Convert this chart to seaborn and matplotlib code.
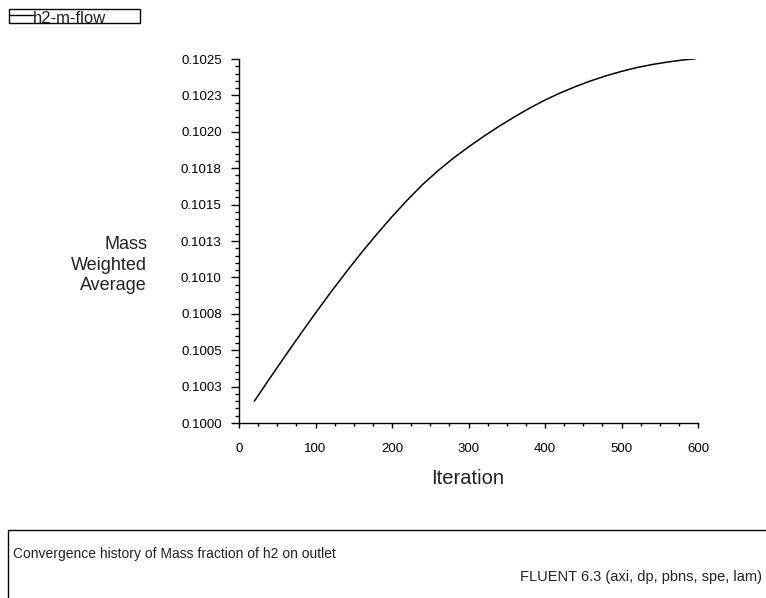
import matplotlib
matplotlib.use("Agg")
import matplotlib.pyplot as plt
from matplotlib.ticker import MultipleLocator, FixedLocator, FixedFormatter
from matplotlib.patches import Rectangle
import seaborn as sns
import pandas as pd

sns.set_style("ticks")
plt.rcParams['font.family'] = ['Liberation Sans', 'DejaVu Sans']

iterations = [20, 40, 60, 80, 100, 120, 140, 160, 180, 200, 220, 240, 260, 280, 300,
              320, 340, 360, 380, 400, 420, 440, 460, 480, 500, 520, 540, 560, 580, 597]
mass_weighted_avg = [0.100150, 0.100305, 0.100458, 0.100608, 0.100755, 0.100898, 0.101036,
                     0.101169, 0.101296, 0.101417, 0.101531, 0.101638, 0.101732, 0.101818,
                     0.101896, 0.101969, 0.102038, 0.102102, 0.102163, 0.102218, 0.102267,
                     0.102311, 0.102350, 0.102385, 0.102415, 0.102441, 0.102462, 0.102479,
                     0.102493, 0.102502]
y_ticks = [0.1000, 0.10025, 0.1005, 0.10075, 0.1010, 0.10125, 0.1015, 0.10175, 0.1020, 0.10225, 0.1025]
y_tick_labels = ["0.1000", "0.1003", "0.1005", "0.1008", "0.1010", "0.1013", "0.1015", "0.1018",
                 "0.1020", "0.1023", "0.1025"]
x_ticks = [0, 100, 200, 300, 400, 500, 600]
legend_label = "h2-m-flow"
title_text = "Convergence history of Mass fraction of h2 on outlet"
footer_text = "FLUENT 6.3 (axi, dp, pbns, spe, lam)"

df = pd.DataFrame({"Iteration": iterations, "Value": mass_weighted_avg})

W, H = 766, 598
fig = plt.figure(figsize=(W / 100, H / 100), dpi=100)
ax = fig.add_axes([239 / W, 1 - 423 / H, (698 - 239) / W, (423 - 59) / H])
sns.lineplot(data=df, x="Iteration", y="Value", ax=ax, color="black", linewidth=1.1)

ax.set_xlim(0, 600)
ax.set_ylim(0.1000, 0.1025)
ax.yaxis.set_major_locator(FixedLocator(y_ticks))
ax.yaxis.set_major_formatter(FixedFormatter(y_tick_labels))
ax.yaxis.set_minor_locator(MultipleLocator(0.00005))
ax.xaxis.set_major_locator(FixedLocator(x_ticks))
ax.xaxis.set_minor_locator(MultipleLocator(25))

for s in ["top", "right"]:
    ax.spines[s].set_visible(False)
for s in ["left", "bottom"]:
    ax.spines[s].set_linewidth(1.0)
    ax.spines[s].set_color("black")

ax.tick_params(axis="both", which="both", direction="out", width=1, colors="black", labelsize=9.5)
ax.tick_params(axis="y", which="major", length=5.5, pad=7)
ax.tick_params(axis="y", which="minor", length=3.1)
ax.tick_params(axis="x", which="major", length=3.6, pad=10.5)
ax.tick_params(axis="x", which="minor", length=2.2)

ax.set_xlabel("Iteration", fontsize=14.5, color="#222222", va="baseline")
ax.xaxis.set_label_coords(0.499, -61 / 364)
ax.set_ylabel("Mass\nWeighted\nAverage", fontsize=13, rotation=0, ha="right", va="center",
              color="#222222", linespacing=1.3, multialignment="right")
ax.yaxis.set_label_coords(-92 / 459, (423 - 265) / 364)

# legend box at top-left
fig.patches.append(Rectangle((9 / W, 1 - 23 / H), (140 - 9) / W, 14 / H, transform=fig.transFigure,
                             fill=False, edgecolor="black", linewidth=1.0))
fig.lines.append(plt.Line2D([10 / W, 33 / W], [1 - 15 / H, 1 - 15 / H], transform=fig.transFigure,
                            color="black", linewidth=1.0))
fig.text(33 / W, 1 - 23 / H, legend_label, fontsize=12, ha="left", va="baseline", color="#222222")

# bottom info box
fig.patches.append(Rectangle((8 / W, -0.05), 1.0, 1 - 530 / H + 0.05, transform=fig.transFigure,
                             fill=False, edgecolor="black", linewidth=1.0))
fig.text(13 / W, 1 - 554 / H, title_text, fontsize=10, ha="left", va="center", color="#222222")
fig.text(762 / W, 1 - 577 / H, footer_text, fontsize=10.5, ha="right", va="center", color="#222222")

fig.savefig("out.png", dpi=100, facecolor="white")
